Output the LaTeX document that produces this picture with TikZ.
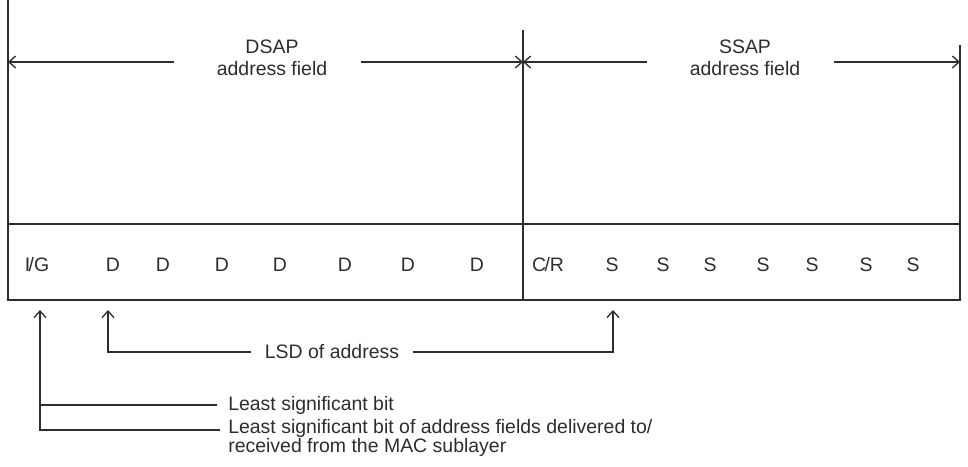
\documentclass[tikz,border=0pt]{standalone}
\usepackage{fontspec}
\setmainfont{Liberation Sans}
\usetikzlibrary{arrows.meta,positioning}
\definecolor{InkGray}{RGB}{45,45,45}
\tikzset{
  frame/.style={line width=1.1pt,InkGray},
  dim/.style={line width=1pt,InkGray,-{Straight Barb[length=5pt,width=9pt]}},
  lead/.style={line width=1pt,InkGray},
  lbl/.style={font=\fontsize{14.6}{16.5}\selectfont,text=InkGray,inner sep=0pt,align=center},
}

\begin{document}
\begin{tikzpicture}[x=0.75pt,y=-0.75pt]
      \useasboundingbox (0,0) rectangle (968,467);
      % frame of the two fields
      \draw[frame] (8,0) -- (8,300) -- (960,300) -- (960,45);
      \draw[frame] (8,224) -- (960,224);
      \draw[frame] (523,30) -- (523,300);
      \coordinate (dleft) at (8,62);
      \coordinate (mid) at (523,62);
      \coordinate (sright) at (960,62);
      % field names
      \node[lbl] (dsap) at (272,58) {DSAP\\address field};
      \node[lbl] (ssap) at (745,58) {SSAP\\address field};
      \draw[dim] ([xshift=-32]dsap.west |- dleft) -- (dleft);
      \draw[dim] ([xshift=25]dsap.east |- mid) -- (mid);
      \draw[dim] ([xshift=-32]ssap.west |- mid) -- (mid);
      \draw[dim] ([xshift=25]ssap.east |- sright) -- (sright);
      % bits
      \foreach \x/\t [count=\i from 0] in {37/{I\kern-0.08em/G},113/D,163/D,222/D,280/D,345/D,408/D,477/D,
          548/{C\kern-0.08em/R},612/S,663/S,710/S,763/S,812/S,866/S,913/S}
        \node[lbl] (b\i) at (\x,265) {\t};
      % pointers below
      \coordinate (igup) at (40,310);
      \coordinate (dup) at (108,310);
      \coordinate (sup1) at (613,310);
      \node[lbl] (lsd) at (332,352) {LSD of address};
      \draw[dim] ([xshift=-10]lsd.west) -| (dup);
      \draw[dim] ([xshift=10]lsd.east) -| (sup1);
      \node[lbl,anchor=west] (lsbtxt) at (228,405) {Least significant bit};
      \draw[lead] ([xshift=-8]lsbtxt.west) -- (lsbtxt.west -| igup);
      \node[lbl,anchor=west,align=left,font=\fontsize{14.6}{13}\selectfont] (mactxt) at (228,438)
        {Least significant bit of address fields delivered to/\\received from the MAC sublayer};
      \coordinate (macend) at (220,430);
      \draw[dim] (macend) -| (igup);
    \end{tikzpicture}
\end{document}
